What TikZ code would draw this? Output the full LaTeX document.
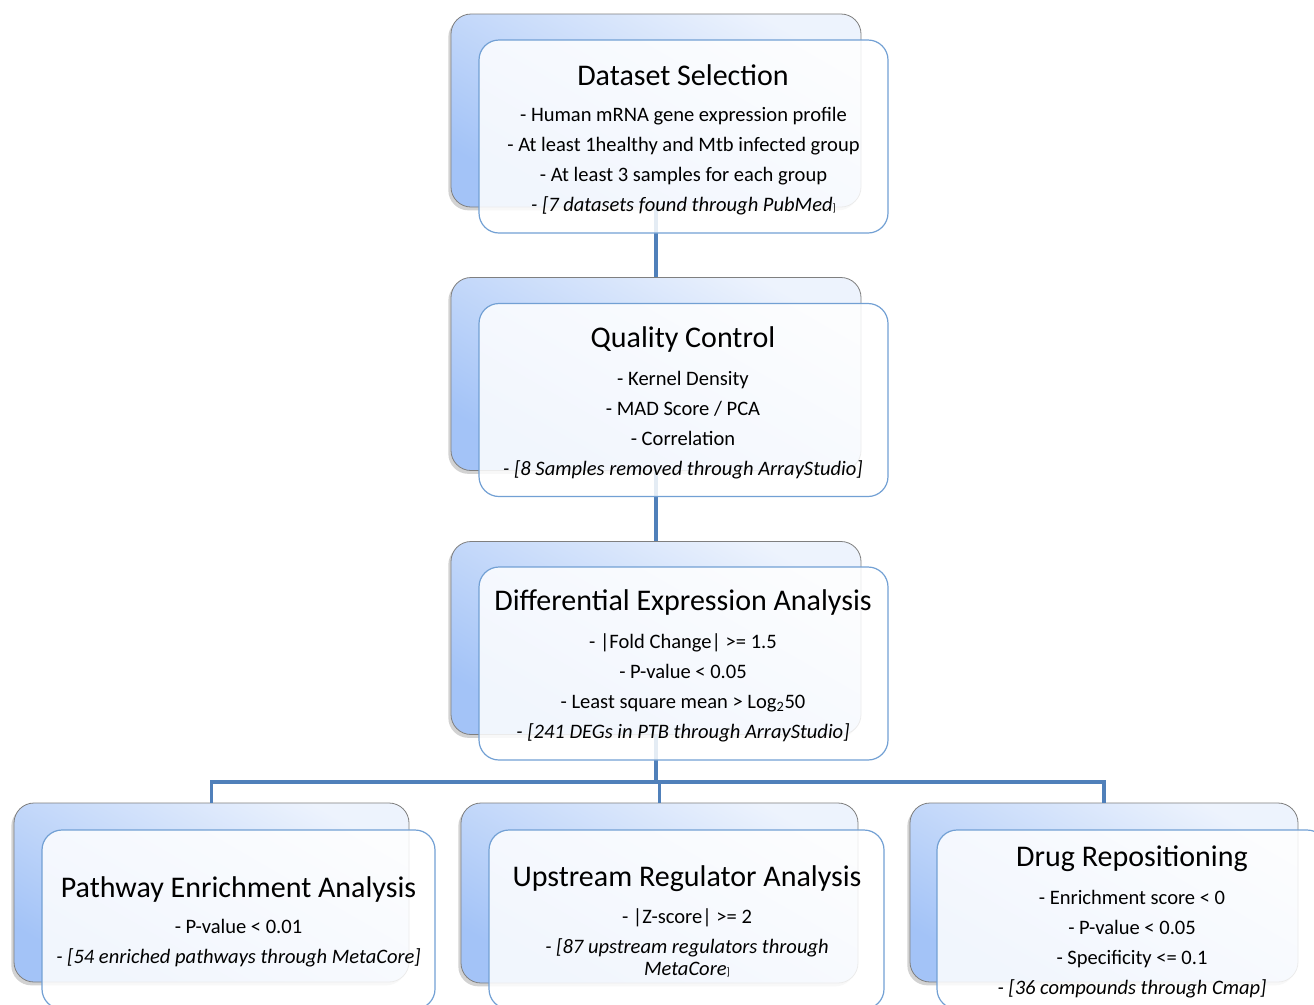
\documentclass[tikz,border=0pt]{standalone}
\usepackage{fontspec}
\setmainfont{Carlito}
\usetikzlibrary{shadows}

\definecolor{linkblue}{HTML}{5080BA}
\definecolor{frameblue}{HTML}{72A0D4}
\definecolor{shadetop}{HTML}{EDF3FD}
\definecolor{shadebot}{HTML}{A3C3F7}
\definecolor{backline}{HTML}{7F7F7F}

\tikzset{
  backbox/.style={draw=backline, line width=0.6pt, rounded corners=15pt,
    top color=shadetop, bottom color=shadebot, shading angle=-30,
    drop shadow={shadow xshift=-2pt, shadow yshift=-2.5pt, opacity=0.35},
    inner sep=0pt},
  frontbox/.style={draw=frameblue, line width=0.9pt, rounded corners=15pt,
    fill=white, fill opacity=0.85, inner sep=0pt},
  link/.style={draw=linkblue, line width=2.4pt},
  titletext/.style={font=\fontsize{22.5}{27}\selectfont, inner sep=0pt},
  bodytext/.style={font=\fontsize{15.4}{22.5}\selectfont, align=center, inner sep=0pt},
}

\begin{document}
\begin{tikzpicture}[x=0.75pt, y=-0.75pt]
  \clip (0,0) rectangle (1314,1004);
  \fill[white] (0,0) rectangle (1314,1004);

  % shaded back panels
  \node[backbox, minimum width=307.5pt, minimum height=144.75pt] (b1) at (656,110.5) {};
  \node[backbox, minimum width=307.5pt, minimum height=144.75pt] (b2) at (656,374) {};
  \node[backbox, minimum width=307.5pt, minimum height=144.75pt] (b3) at (656,638) {};
  \node[backbox, minimum width=296.25pt, minimum height=134.25pt] (b4) at (211.5,892.5) {};
  \node[backbox, minimum width=297.75pt, minimum height=135pt] (b5) at (659.5,893) {};
  \node[backbox, minimum width=291pt, minimum height=134.25pt] (b6) at (1104,892.5) {};

  % connectors
  \coordinate (bus) at (656,782);
  \draw[link] (b1.south) -- (b2.north);
  \draw[link] (b2.south) -- (b3.north);
  \draw[link] (b3.south) -- (bus);
  \draw[link] (b4.north) -- (b4.north |- bus) -- (b6.north |- bus) -- (b6.north);
  \draw[link] (b5.north |- bus) -- (b5.north);

  % front panels
  \node[frontbox, minimum width=306.75pt, minimum height=144.75pt] (f1) at (683.5,136.5) {};
  \node[frontbox, minimum width=306.75pt, minimum height=144.75pt] (f2) at (683.5,400) {};
  \node[frontbox, minimum width=306.75pt, minimum height=144.75pt] (f3) at (683.5,663.5) {};
  \node[frontbox, minimum width=294.75pt, minimum height=134.25pt] (f4) at (238.5,919.5) {};
  \node[frontbox, minimum width=296.25pt, minimum height=134.25pt] (f5) at (686.5,919.5) {};
  \node[frontbox, minimum width=292.5pt, minimum height=134.25pt] (f6) at (1132,919.5) {};

  % texts
  \node[titletext] (t1) at (683,75) {Dataset Selection};
  \node[bodytext] (d1) at (683.5,161) {- Human mRNA gene expression profile\\
    - At least 1healthy and Mtb infected group\\
    - At least 3 samples for each group\\
    \textit{- [7 datasets found through PubMed}{\footnotesize]}};

  \node[titletext] (t2) at (683,339.5) {Quality Control};
  \node[bodytext] (d2) at (683,425) {- Kernel Density\\
    - MAD Score / PCA\\
    - Correlation\\
    \textit{- [8 Samples removed through ArrayStudio]}};

  \node[titletext] (t3) at (683,602.5) {Differential Expression Analysis};
  \node[bodytext] (d3) at (683,688) {- |Fold Change| >= 1.5\\
    - P-value < 0.05\\
    - Least square mean > Log\textsubscript{2}50\\
    \textit{- [241 DEGs in PTB through ArrayStudio]}};

  \node[titletext] (t4) at (238.5,889.5) {Pathway Enrichment Analysis};
  \node[bodytext] (d4) at (238.5,943) {- P-value < 0.01\\
    \textit{- [54 enriched pathways through MetaCore]}};

  \node[titletext] (t5) at (687,878.5) {Upstream Regulator Analysis};
  \node[bodytext] (d5) at (687,943) {- |Z-score| >= 2\\
    \textit{- [87 upstream regulators through}\\[-6pt]
    \textit{MetaCore}{\footnotesize]}};

  \node[titletext] (t6) at (1132,858.5) {Drug Repositioning};
  \node[bodytext] (d6) at (1132,944) {- Enrichment score < 0\\
    - P-value < 0.05\\
    - Specificity <= 0.1\\
    \textit{- [36 compounds through Cmap]}};
\end{tikzpicture}
\end{document}
